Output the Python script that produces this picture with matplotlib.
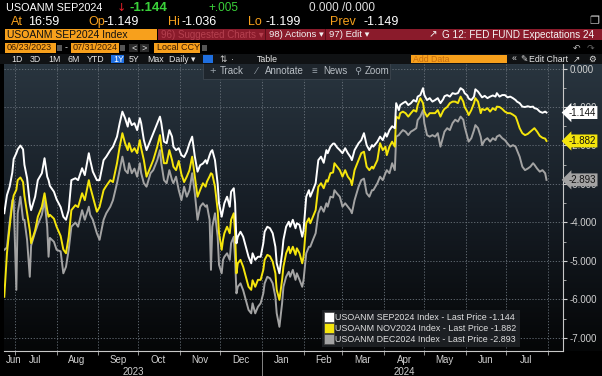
import numpy as np
import matplotlib
matplotlib.use("Agg")
import matplotlib.pyplot as plt
import matplotlib.dates as mdates
import matplotlib.transforms as mtransforms
from matplotlib.patches import Rectangle
from matplotlib.lines import Line2D
from matplotlib.colors import LinearSegmentedColormap
from datetime import date, timedelta

plt.rcParams['axes.unicode_minus'] = False
plt.rcParams['font.family'] = ['Liberation Sans', 'DejaVu Sans']

# ---- datos ----
fechas = [
    "2023-06-23", "2023-06-25", "2023-06-27", "2023-06-29", "2023-06-30",
    "2023-07-02", "2023-07-03", "2023-07-05", "2023-07-07", "2023-07-08", "2023-07-10", "2023-07-12", "2023-07-13",
    "2023-07-16", "2023-07-18", "2023-07-21", "2023-07-23", "2023-07-25", "2023-07-26", "2023-07-27", "2023-07-30",
    "2023-08-01", "2023-08-04", "2023-08-06", "2023-08-08", "2023-08-10", "2023-08-12", "2023-08-15", "2023-08-17",
    "2023-08-20", "2023-08-22", "2023-08-25", "2023-08-26", "2023-08-28", "2023-08-31",
    "2023-09-02", "2023-09-05", "2023-09-07", "2023-09-10", "2023-09-12", "2023-09-15", "2023-09-17", "2023-09-19",
    "2023-09-21", "2023-09-23", "2023-09-24", "2023-09-26", "2023-09-28", "2023-09-30",
    "2023-10-02", "2023-10-03", "2023-10-05", "2023-10-07", "2023-10-10", "2023-10-12", "2023-10-15", "2023-10-17",
    "2023-10-18", "2023-10-20", "2023-10-22", "2023-10-24", "2023-10-26", "2023-10-27", "2023-10-29", "2023-10-31",
    "2023-11-02", "2023-11-04", "2023-11-06", "2023-11-08", "2023-11-10", "2023-11-12", "2023-11-14", "2023-11-16",
    "2023-11-18", "2023-11-20", "2023-11-21", "2023-11-23", "2023-11-24", "2023-11-25", "2023-11-27", "2023-11-29",
    "2023-11-30",
    "2023-12-02", "2023-12-03", "2023-12-04", "2023-12-06", "2023-12-08", "2023-12-09", "2023-12-11", "2023-12-12",
    "2023-12-13", "2023-12-14", "2023-12-16", "2023-12-18", "2023-12-20", "2023-12-22", "2023-12-24", "2023-12-25",
    "2023-12-27", "2023-12-29", "2023-12-31",
    "2024-01-02", "2024-01-03", "2024-01-05", "2024-01-07", "2024-01-09", "2024-01-11", "2024-01-12", "2024-01-14",
    "2024-01-16", "2024-01-17", "2024-01-19", "2024-01-21", "2024-01-22", "2024-01-24", "2024-01-26", "2024-01-27",
    "2024-01-29", "2024-01-31",
    "2024-02-01", "2024-02-03", "2024-02-05", "2024-02-06", "2024-02-08", "2024-02-10", "2024-02-12", "2024-02-14",
    "2024-02-16", "2024-02-18", "2024-02-19", "2024-02-21", "2024-02-23", "2024-02-24", "2024-02-26", "2024-02-28",
    "2024-03-01", "2024-03-03", "2024-03-05", "2024-03-07", "2024-03-08", "2024-03-10", "2024-03-13", "2024-03-15",
    "2024-03-17", "2024-03-19", "2024-03-21", "2024-03-23", "2024-03-24", "2024-03-27", "2024-03-29", "2024-03-31",
    "2024-04-02", "2024-04-03", "2024-04-05", "2024-04-07", "2024-04-09", "2024-04-10", "2024-04-12", "2024-04-13",
    "2024-04-15", "2024-04-17", "2024-04-19", "2024-04-21", "2024-04-23", "2024-04-25", "2024-04-26", "2024-04-28",
    "2024-04-30",
    "2024-05-01", "2024-05-03", "2024-05-05", "2024-05-07", "2024-05-09", "2024-05-11", "2024-05-13", "2024-05-15",
    "2024-05-16", "2024-05-18", "2024-05-20", "2024-05-22", "2024-05-24", "2024-05-26", "2024-05-28", "2024-05-30",
    "2024-05-31",
    "2024-06-02", "2024-06-03", "2024-06-05", "2024-06-07", "2024-06-08", "2024-06-10", "2024-06-12", "2024-06-13",
    "2024-06-15", "2024-06-17", "2024-06-19", "2024-06-21", "2024-06-23", "2024-06-24", "2024-06-26", "2024-06-28",
    "2024-06-30",
    "2024-07-02", "2024-07-04", "2024-07-06", "2024-07-08", "2024-07-09", "2024-07-11", "2024-07-13", "2024-07-15",
    "2024-07-17", "2024-07-19", "2024-07-21", "2024-07-22", "2024-07-24", "2024-07-26", "2024-07-28", "2024-07-30",
    "2024-07-31",
]

sep2024 = [
    -3.76, -3.29, -3.07, -2.70, -2.35,
    -2.20, -2.10, -2.00, -2.10, -2.50, -2.85, -3.50, -3.68, -3.33, -2.90, -2.72, -2.33, -2.81, -2.90, -3.05, -3.20,
    -3.40, -3.60, -3.85, -3.93, -3.68, -2.90, -2.85, -2.90, -2.59, -2.77, -2.20, -2.38, -2.68, -2.90,
    -2.90, -2.38, -2.29, -2.12, -2.03, -1.77, -1.42, -1.12, -1.29, -1.51, -1.29, -1.47, -1.42, -1.60,
    -1.29, -1.42, -1.86, -2.12, -1.86, -1.68, -1.42, -1.25, -1.42, -1.90, -1.94, -1.60, -1.77, -2.03, -2.12, -2.07,
    -2.25, -2.30, -2.16, -1.94, -1.77, -2.29, -2.68, -2.51, -2.47, -2.38, -2.47, -2.25, -2.16, -2.12, -2.38, -3.00, -3.50,
    -3.85, -3.68, -3.50, -3.33, -3.59, -3.20, -3.11, -3.50, -4.54, -4.37, -4.24, -4.37, -4.63, -4.89, -5.06, -4.80,
    -4.97, -4.89, -4.89,
    -4.54, -4.24, -4.11, -4.15, -4.28, -4.63, -5.06, -5.32, -4.80, -4.45, -4.11, -3.98, -4.11, -3.93, -4.15, -4.02,
    -4.06, -4.37,
    -4.20, -3.33, -3.16, -3.33, -3.16, -2.98, -2.38, -2.29, -2.45, -2.12, -2.20, -2.03, -1.95, -1.95, -2.05, -2.12,
    -2.20, -2.07, -2.20, -2.30, -2.38, -2.12, -1.94, -1.86, -1.68, -1.99, -2.12, -1.99, -2.03, -1.90, -1.77, -1.86,
    -1.68, -1.77, -1.60, -1.50, -1.55, -0.90, -1.08, -0.95, -0.90, -0.86, -0.95, -0.90, -0.82, -0.86, -0.73, -0.69, -0.51,
    -0.69, -0.82, -0.77, -0.86, -0.82, -0.77, -0.90, -0.80, -0.72, -0.69, -0.73, -0.64, -0.66, -0.64, -0.51, -0.56, -0.64,
    -0.70, -0.78, -0.82, -0.73, -0.54, -0.60, -0.70, -0.75, -0.71, -0.77, -0.73, -0.70, -0.73, -0.64, -0.73, -0.69, -0.69,
    -0.75, -0.73, -0.77, -0.82, -0.86, -0.90, -0.99, -1.00, -0.98, -1.00, -0.99, -1.03, -1.05, -1.12, -1.15, -1.12, -1.144,
]

nov2024 = [
    -5.93, -4.80, -4.11, -3.50, -3.30,
    -3.15, -2.90, -2.83, -2.95, -3.30, -3.75, -4.20, -4.54, -4.20, -3.85, -3.59, -3.24, -3.68, -3.85, -3.80, -3.90,
    -4.11, -4.35, -4.70, -4.80, -4.37, -3.68, -3.55, -3.60, -3.24, -3.42, -2.90, -3.07, -3.33, -3.72,
    -3.60, -3.16, -3.05, -2.90, -2.95, -2.46, -2.03, -1.68, -1.94, -2.12, -1.94, -2.16, -2.07, -2.20,
    -1.86, -2.07, -2.38, -2.81, -2.55, -2.38, -2.03, -1.73, -2.03, -2.46, -2.46, -2.12, -2.38, -2.55, -2.64, -2.40,
    -2.75, -2.95, -2.81, -2.64, -2.29, -2.81, -3.33, -3.15, -2.98, -3.07, -2.94, -2.80, -2.72, -2.75, -3.07, -3.68, -4.28,
    -4.71, -4.45, -4.28, -4.11, -4.28, -3.93, -3.76, -4.28, -5.32, -5.06, -4.97, -5.15, -5.41, -5.67, -5.75, -5.50,
    -5.67, -5.49, -5.49,
    -5.23, -4.97, -4.84, -4.88, -5.02, -5.32, -5.75, -6.01, -5.49, -5.15, -4.80, -4.63, -4.80, -4.63, -4.84, -4.67,
    -4.80, -5.06,
    -4.88, -4.02, -3.89, -4.02, -3.85, -3.68, -3.07, -2.98, -3.11, -2.90, -2.94, -2.72, -2.70, -2.46, -2.55, -2.64,
    -2.81, -2.64, -2.81, -2.90, -3.03, -2.64, -2.38, -2.20, -2.16, -2.55, -2.64, -2.55, -2.60, -2.38, -1.94, -2.12,
    -2.03, -2.25, -2.03, -1.90, -2.03, -1.25, -1.30, -1.16, -1.12, -1.16, -1.25, -1.16, -1.08, -1.12, -0.95, -0.77, -0.90,
    -1.12, -1.25, -1.16, -1.16, -1.16, -1.08, -1.25, -1.10, -1.05, -1.00, -0.90, -0.86, -0.86, -0.90, -0.73, -0.86, -1.00,
    -1.12, -1.21, -1.08, -0.90, -0.77, -0.86, -1.16, -1.05, -1.08, -1.03, -1.12, -1.03, -1.08, -0.99, -1.00, -1.05, -1.12,
    -1.16, -1.16, -1.20, -1.25, -1.34, -1.55, -1.68, -1.73, -1.70, -1.64, -1.58, -1.55, -1.64, -1.75, -1.80, -1.82, -1.882,
]

dec2024 = [
    -4.71, -4.65, -4.00, -3.42, -3.42,
    -5.75, -3.76, -3.33, -3.93, -3.93, -4.45, -5.41, -4.60, -4.25, -4.05, -3.80, -3.42, -4.11, -4.89, -4.40, -4.50,
    -4.71, -4.75, -5.32, -5.15, -4.71, -4.11, -4.00, -4.11, -3.68, -3.93, -3.59, -3.80, -3.93, -4.28,
    -4.45, -3.93, -3.76, -3.59, -3.42, -2.98, -2.64, -2.29, -2.64, -2.72, -2.46, -2.72, -2.60, -2.81,
    -2.46, -2.72, -2.98, -3.07, -2.72, -2.64, -2.38, -2.12, -2.46, -2.90, -2.98, -2.64, -2.90, -2.98, -2.81, -3.16,
    -3.42, -3.07, -3.33, -3.16, -2.72, -3.25, -3.93, -3.59, -3.50, -3.59, -3.55, -3.93, -5.23, -4.11, -3.76, -4.37, -5.10,
    -5.32, -4.97, -4.89, -4.80, -4.97, -4.54, -4.37, -4.97, -5.84, -5.67, -5.58, -5.76, -6.01, -6.27, -6.36, -6.10,
    -6.36, -6.19, -6.10,
    -5.84, -5.58, -5.41, -5.45, -5.58, -5.93, -6.36, -6.71, -6.10, -5.67, -5.41, -5.28, -5.41, -5.23, -5.49, -5.32,
    -5.49, -5.67,
    -5.49, -4.80, -4.63, -4.63, -4.45, -4.28, -3.76, -3.59, -3.72, -3.50, -3.59, -3.33, -3.35, -3.16, -3.25, -3.33,
    -3.59, -3.50, -3.59, -3.68, -3.76, -3.42, -3.07, -2.90, -2.86, -3.24, -3.33, -3.16, -3.16, -2.98, -2.81, -2.90,
    -2.72, -2.64, -2.72, -2.46, -2.64, -1.77, -1.73, -1.68, -1.60, -1.64, -1.73, -1.64, -1.60, -1.55, -1.34, -1.25, -1.08,
    -1.42, -1.73, -1.77, -1.73, -1.77, -1.68, -2.03, -1.77, -1.64, -1.55, -1.60, -1.42, -1.33, -1.38, -1.25, -1.33, -1.51,
    -1.77, -1.90, -1.81, -1.60, -1.47, -1.55, -1.77, -1.99, -1.86, -1.81, -1.90, -1.81, -1.86, -1.77, -1.73, -1.81, -1.86,
    -1.95, -2.03, -1.99, -2.03, -2.12, -2.29, -2.55, -2.64, -2.60, -2.55, -2.46, -2.50, -2.60, -2.68, -2.64, -2.72, -2.893,
]

nombres = ["USOANM SEP2024 Index", "USOANM NOV2024 Index", "USOANM DEC2024 Index"]
colores = ["#ffffff", "#f5e50c", "#a3a3a3"]
niveles_y = [0, -1, -2, -3, -4, -5, -6, -7]
etiquetas_anio = ["2023", "2024"]

# ---- figura ----
W, H = 602, 376
fig = plt.figure(figsize=(W / 100, H / 100), dpi=100, facecolor="black")


def fx(x):
    return x / W


def fy(y):
    return 1 - y / H


def texto(x, y, s, color="white", size=8, **kw):
    fig.text(fx(x), fy(y), s, color=color, fontsize=size, va="center", ha=kw.pop("ha", "left"), **kw)


def caja(x0, y0, x1, y1, color, **kw):
    fig.add_artist(Rectangle((fx(x0), fy(y1)), fx(x1) - fx(x0), fy(y0) - fy(y1),
                             transform=fig.transFigure, facecolor=color, edgecolor=kw.pop("ec", "none"), **kw))


# fondo degradado detras del grafico
fondo = fig.add_axes([fx(4), fy(351), fx(602) - fx(4), fy(64) - fy(351)])
fondo.axis("off")
cmap_fondo = LinearSegmentedColormap.from_list("fondo", ["#29353f", "#161d25", "#050607"])
fondo.imshow(np.linspace(0, 1, 256)[:, None], cmap=cmap_fondo, aspect="auto", extent=[0, 1, 0, 1])

ax = fig.add_axes([fx(4), fy(351), fx(563) - fx(4), fy(64) - fy(351)])
ax.set_facecolor("none")

x = mdates.datestr2num(fechas)
for vals, c in reversed(list(zip([sep2024, nov2024, dec2024], colores))):
    ax.plot(x, vals, color=c, lw=1.4, solid_joinstyle="round")

inicio = mdates.date2num(date(2023, 6, 23))
ax.set_xlim(inicio - 0.2, inicio + 416.3)
ax.set_ylim(-7.338, 0.117)

# rejilla y ejes
ax.xaxis.set_major_locator(mdates.MonthLocator())
ax.xaxis.set_major_formatter(plt.NullFormatter())
ax.grid(True, which="major", color="#6b747d", lw=0.6, ls=(0, (1.5, 2)))
ax.set_yticks(niveles_y)
ax.yaxis.tick_right()
ax.yaxis.set_major_formatter(plt.FormatStrFormatter("%.3f"))
ax.yaxis.set_minor_locator(plt.MultipleLocator(0.5))
ax.tick_params(axis="y", which="major", colors="#d0d0d0", labelsize=7, length=3, width=0.8, pad=2)
ax.tick_params(axis="y", which="minor", colors="#bbbbbb", length=2, width=0.6)
ax.tick_params(axis="x", which="major", colors="#aaaaaa", length=3, width=0.6)

# etiquetas de meses centradas en cada mes
meses = []
nombres_mes = []
m = date(2023, 6, 1)
while m <= date(2024, 7, 1):
    sig = date(m.year + (m.month == 12), m.month % 12 + 1, 1)
    centro = m + timedelta(days=15)
    if mdates.date2num(centro) < inicio:
        centro = sig - timedelta(days=1)
    meses.append(mdates.date2num(centro))
    nombres_mes.append(m.strftime("%b"))
    m = sig
ax.xaxis.set_minor_locator(plt.FixedLocator(meses))
ax.xaxis.set_minor_formatter(plt.FixedFormatter(nombres_mes))
ax.tick_params(axis="x", which="minor", length=0, colors="#d0d0d0", labelsize=7, pad=3)

for s in ["left", "top"]:
    ax.spines[s].set_visible(False)
for s in ["right", "bottom"]:
    ax.spines[s].set_color("#c8c8c8")
    ax.spines[s].set_linewidth(0.8)

# anios y separador
tr = mtransforms.blended_transform_factory(ax.transData, ax.transAxes)
fin = mdates.datestr2num(fechas[-1])
ene = mdates.date2num(date(2024, 1, 1))
for a, (d0, d1) in zip(etiquetas_anio, [(x[0], ene), (ene, fin)]):
    ax.text((d0 + d1) / 2, -0.073, a, transform=tr, ha="center", va="center", color="#d0d0d0", fontsize=7)
ax.plot([ene, ene], [-0.0, -0.09], transform=tr, color="#9a9a9a", lw=0.6, clip_on=False)

# cajas del ultimo valor
for vals, c in zip([sep2024, nov2024, dec2024], colores):
    ax.annotate(f"{vals[-1]:.3f}", xy=(1, vals[-1]), xycoords=("axes fraction", "data"),
                xytext=(4, 0), textcoords="offset points", va="center", ha="left",
                fontsize=7, color="#111111", zorder=5,
                bbox=dict(boxstyle="larrow,pad=0.15", fc=c, ec="none"))

# leyenda
handles = [Line2D([], [], marker="s", ms=6.5, ls="none", mfc=c, mec="#444444", mew=0.5) for c in colores]
labels = [f"{n} - Last Price {v[-1]:.3f}" for n, v in zip(nombres, [sep2024, nov2024, dec2024])]
leg = ax.legend(handles, labels, loc="lower left", bbox_to_anchor=(0.568, 0.014), fontsize=6.4,
                frameon=True, fancybox=False, borderpad=0.35, labelspacing=0.2, handletextpad=0.3,
                handlelength=0.9, borderaxespad=0)
leg.get_frame().set_facecolor("#1f2226")
leg.get_frame().set_edgecolor("none")
leg.get_frame().set_alpha(0.9)
for t in leg.get_texts():
    t.set_color("#e0e0e0")

# barra Track / Annotate / News / Zoom
caja(203, 63, 390, 79, "#1f262d", ec="#3d464f", lw=0.6)
texto(209, 71, "+", "#9aa3ab", 8)
texto(220, 71, "Track", "#b8bec4", 7)
texto(256, 71, "\u2215", "#9aa3ab", 7)
texto(265, 71, "Annotate", "#b8bec4", 7)
texto(312, 71, "\u2261", "#9aa3ab", 7)
texto(323, 71, "News", "#b8bec4", 7)
texto(354, 71, "\u26b2", "#9aa3ab", 7, family=["DejaVu Sans", "DejaVu Sans Mono"])
texto(365, 71, "Zoom", "#b8bec4", 7)

# ---- cabecera ----
naranja = "#f7a01c"
texto(6, 8, "USOANM SEP2024", "white", 7.8)
texto(117, 8, "\u2193", "#e8202a", 8, family="DejaVu Sans")
texto(129, 8, "-1.144", "#3ad13a", 9.5, fontweight="bold")
texto(208, 8, "+.005", "#3ad13a", 8.5)
texto(309, 8, "0.000 /0.000", "#e0e0e0", 8.5)

texto(11, 22, "At", naranja, 9)
texto(28, 22, "16:59", "white", 9)
texto(88, 22, "Op", naranja, 9)
texto(104, 22, "-1.149", "white", 9)
texto(168, 22, "Hi", naranja, 9)
texto(182, 22, "-1.036", "white", 9)
texto(248, 22, "Lo", naranja, 9)
texto(265, 22, "-1.199", "white", 9)
texto(330, 22, "Prev", naranja, 9)
texto(363, 22, "-1.149", "white", 9)
texto(589, 21, "\u2750", "#cfcfcf", 8, family="DejaVu Sans")

caja(5, 29, 157, 40, naranja)
texto(7, 34.5, "USOANM SEP2024 Index", "#111111", 7.5)
caja(158, 29, 602, 40, "#8a1b2b")
texto(161, 34.5, "96) Suggested Charts \u25be", "#b5404f", 7)
caja(265, 29, 266, 40, "#5e0f1a")
texto(269, 34.5, "98) Actions \u25be", "#f2f2f2", 6.8)
caja(325, 29, 326, 40, "#5e0f1a")
texto(329, 34.5, "97) Edit \u25be", "#f2f2f2", 6.8)
texto(429, 34.5, "\u2197", "#f2f2f2", 7.5, family="DejaVu Sans")
texto(442, 34.5, "G 12: FED FUND Expectations 24", "#f5f5f5", 7.2)

caja(5, 43, 56, 53, naranja)
texto(7, 48, "06/23/2023", "#3a1a00", 6.5)
caja(57, 45, 62, 51, "#555555")
texto(65, 48, "-", "#dddddd", 6.5)
caja(71, 43, 119, 53, naranja)
texto(73, 48, "07/31/2024", "#3a1a00", 6.5)
caja(120, 45, 125, 51, "#555555")
caja(129, 44, 138, 52, "#2a2a2a")
texto(131, 48, "<", "#dddddd", 6.5)
caja(140, 44, 149, 52, "#2a2a2a")
texto(142, 48, ">", "#dddddd", 6.5)
caja(154, 43, 200, 53, naranja)
texto(157, 48, "Local CCY", "#3a1a00", 6.5)
caja(202, 45, 207, 51, "#555555")
texto(573, 48, "\u21b6", "#bbbbbb", 6.5, family="DejaVu Sans")
texto(587, 48, "\u21b7", "#666666", 6.5, family="DejaVu Sans")

caja(0, 54, 602, 64, "#101214")
for xx, s in [(11, "1D"), (30, "3D"), (48, "1M"), (67, "6M"), (87, "YTD"), (129, "5Y"), (147, "Max"),
              (169, "Daily \u25be")]:
    texto(xx, 59, s, "#e6e6e6", 6.3)
caja(111, 55, 124, 63, "#1f6fe0")
texto(113, 59, "1Y", "white", 6.3)
caja(203, 55, 213, 63, "#1f6fe0")
texto(219, 59, "\u21c5", "#cccccc", 6.3, family="DejaVu Sans")
texto(231, 59, "\u00b7", "#cccccc", 6.3)
texto(257, 59, "Table", "#e6e6e6", 6.3)
caja(411, 55, 507, 63, naranja)
texto(413, 59, "Add Data", "#c66d10", 6.3)
texto(512, 59, "\u00ab", "#dddddd", 6.3)
texto(520, 59, "\u270e", "#dddddd", 6.3, family="DejaVu Sans")
texto(529, 59, "Edit Chart", "#e6e6e6", 6.3)
texto(573, 59, "\u2197", "#dddddd", 6.3, family="DejaVu Sans")
texto(588, 59, "\u2699", "#dddddd", 6.3, family="DejaVu Sans")

fig.savefig("out.png", dpi=100, facecolor="black")
